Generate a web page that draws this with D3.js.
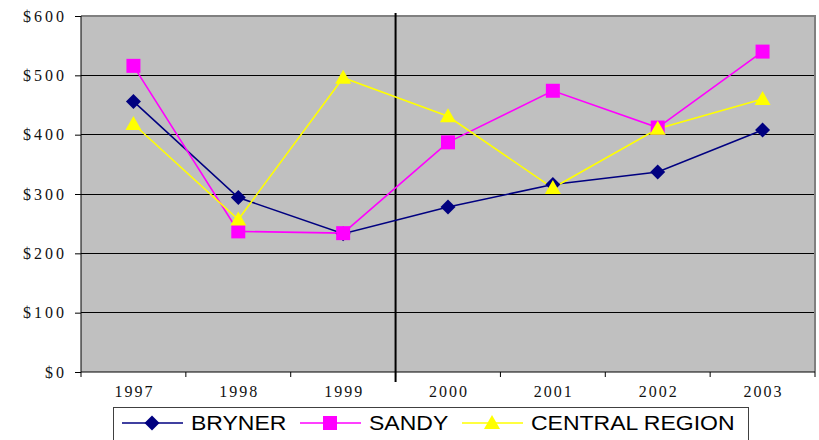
<!DOCTYPE html>
<html>
<head>
<meta charset="utf-8">
<script src="https://cdn.jsdelivr.net/npm/d3@7"></script>
<style>
  body { margin: 0; background: #fff; }
  svg { display: block; }
</style>
</head>
<body>
<div id="chart"></div>
<script>
'use strict';

var years = ['1997', '1998', '1999', '2000', '2001', '2002', '2003'];
var bryner = [456, 294, 233, 278, 316, 337, 408];
var sandy = [516, 237, 234, 387, 474, 412, 540];
var central = [418, 257, 496, 431, 310, 410, 460];
var yTicks = [0, 100, 200, 300, 400, 500, 600];
var dividerBetween = ['1999', '2000'];

var series = [
    { name: 'BRYNER', values: bryner, color: '#000080', marker: 'diamond' },
    { name: 'SANDY', values: sandy, color: '#FF00FF', marker: 'square' },
    { name: 'CENTRAL REGION', values: central, color: '#FFFF00', marker: 'triangle' }
];

var W = 819, H = 440;
var plot = { left: 81, right: 815, top: 16, bottom: 372 };
var serif = '"Liberation Serif", "Times New Roman", serif';

var svg = d3.select('#chart').append('svg')
    .attr('width', W)
    .attr('height', H);

var x = d3.scaleBand().domain(years).range([plot.left, plot.right]);
var y = d3.scaleLinear().domain([0, 600]).range([plot.bottom, plot.top]);

// plot background
svg.append('rect')
    .attr('x', plot.left)
    .attr('y', plot.top)
    .attr('width', plot.right - plot.left)
    .attr('height', plot.bottom - plot.top)
    .style('fill', '#C0C0C0');

// gridlines
svg.selectAll('.grid')
    .data(yTicks.slice(1, -1))
    .enter()
    .append('line')
    .attr('x1', plot.left)
    .attr('x2', plot.right)
    .attr('y1', function(d) { return y(d); })
    .attr('y2', function(d) { return y(d); })
    .style('stroke', '#000')
    .style('stroke-width', 1)
    .attr('shape-rendering', 'crispEdges');

// top & right border (gray)
svg.append('path')
    .attr('d', 'M' + plot.left + ',' + plot.top + 'H' + plot.right + 'V' + plot.bottom)
    .style('fill', 'none')
    .style('stroke', '#808080')
    .style('stroke-width', 2);

// y axis
var yAxis = d3.axisLeft(y)
    .tickValues(yTicks)
    .tickSize(6)
    .tickPadding(8)
    .tickFormat(function(d) { return '$' + d; });

var gy = svg.append('g')
    .attr('transform', 'translate(' + plot.left + ',0)')
    .call(yAxis);
gy.select('.domain').attr('d', 'M0,' + plot.top + 'V' + plot.bottom);
gy.selectAll('.tick text').style('letter-spacing', '3px');

// x axis
var xAxis = d3.axisBottom(x).tickSize(0).tickPadding(14);
var gx = svg.append('g')
    .attr('transform', 'translate(0,' + plot.bottom + ')')
    .call(xAxis);
gx.select('.domain').attr('d', 'M' + plot.left + ',0H' + plot.right);
gx.selectAll('.tick text')
    .style('letter-spacing', '2px')
    .attr('dx', '1');

var bounds = [plot.left].concat(years.map(function(d) { return x(d) + x.bandwidth(); }));
gx.selectAll('.bound')
    .data(bounds)
    .enter()
    .append('line')
    .attr('x1', function(d) { return d; })
    .attr('x2', function(d) { return d; })
    .attr('y1', 0)
    .attr('y2', 5)
    .style('stroke', '#000');

svg.selectAll('.tick text')
    .style('font-family', serif)
    .style('font-size', '16px')
    .style('fill', '#111');
svg.selectAll('.tick line, .domain')
    .style('stroke', '#000')
    .style('stroke-width', 1);

// divider line between 1999 and 2000
var divX = x(dividerBetween[1]);
svg.append('line')
    .attr('x1', divX)
    .attr('x2', divX)
    .attr('y1', plot.top - 3)
    .attr('y2', plot.bottom + 10)
    .style('stroke', '#000')
    .style('stroke-width', 2);

function markerPath(type) {
    if (type === 'diamond') return 'M0,-7.5L7.5,0L0,7.5L-7.5,0Z';
    if (type === 'square') return 'M-7,-7H7V7H-7Z';
    return 'M0,-8L8,6H-8Z';
}

var line = d3.line()
    .x(function(d, i) { return x(years[i]) + x.bandwidth() / 2; })
    .y(function(d) { return y(d); });

series.forEach(function(s) {
    svg.append('path')
        .datum(s.values)
        .attr('d', line)
        .style('fill', 'none')
        .style('stroke', s.color)
        .style('stroke-width', 1.6);
});

series.forEach(function(s) {
    svg.selectAll('.m-' + s.marker)
        .data(s.values)
        .enter()
        .append('path')
        .attr('d', markerPath(s.marker))
        .attr('transform', function(d, i) {
            return 'translate(' + (x(years[i]) + x.bandwidth() / 2) + ',' + y(d) + ')';
        })
        .style('fill', s.color);
});

// legend
var legend = svg.append('g');
legend.append('rect')
    .attr('x', 113.5)
    .attr('y', 407.5)
    .attr('width', 635)
    .attr('height', 50)
    .style('fill', '#fff')
    .style('stroke', '#404040')
    .style('stroke-width', 1);

var legendX = [122, 300, 462];
series.forEach(function(s, i) {
    var g = legend.append('g').attr('transform', 'translate(' + legendX[i] + ',423)');
    g.append('line')
        .attr('x1', 0)
        .attr('x2', 61)
        .style('stroke', s.color)
        .style('stroke-width', 1.6);
    g.append('path')
        .attr('d', markerPath(s.marker))
        .attr('transform', 'translate(30,0)')
        .style('fill', s.color);
    // text in the original is drawn a bit wider than normal
    g.append('text')
        .attr('transform', 'translate(69,7) scale(1.15,1)')
        .style('font-family', '"Liberation Sans", Arial, sans-serif')
        .style('font-size', '20px')
        .style('fill', '#000')
        .text(s.name);
});
</script>
</body>
</html>
